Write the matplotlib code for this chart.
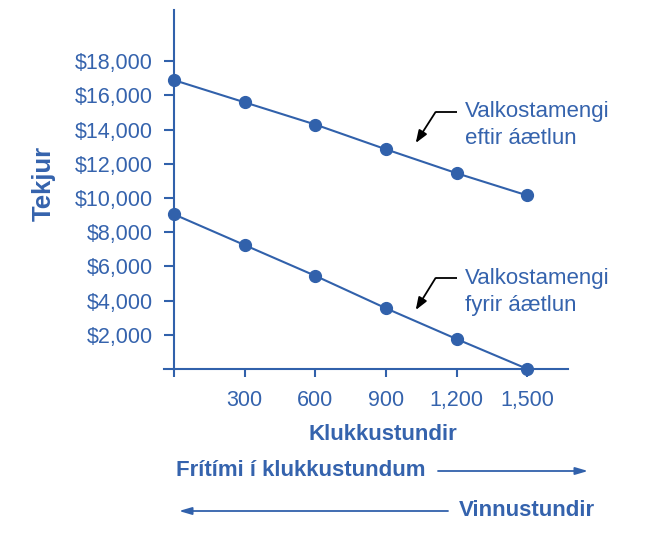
import matplotlib
matplotlib.use("Agg")
import matplotlib.pyplot as plt
from matplotlib.patches import FancyArrowPatch

plt.rcParams['font.family'] = ['Liberation Sans', 'DejaVu Sans']

hours = [0, 300, 600, 900, 1200, 1500]
after_program = [16900, 15600, 14300, 12850, 11450, 10150]
before_program = [9050, 7250, 5450, 3550, 1750, 0]
y_ticks = [2000, 4000, 6000, 8000, 10000, 12000, 14000, 16000, 18000]
y_tick_labels = ["$2,000", "$4,000", "$6,000", "$8,000", "$10,000",
                 "$12,000", "$14,000", "$16,000", "$18,000"]
x_ticks = [0, 300, 600, 900, 1200, 1500]
x_tick_labels = ["", "300", "600", "900", "1,200", "1,500"]

BLUE = "#3161ab"
TEXT = "#3563ad"

fig = plt.figure(figsize=(6.5, 5.36), dpi=100)
ax = fig.add_axes([164/650, (536-369)/536, 404/650, 359/536])
ax.set_xlim(-42, 1672)
ax.set_ylim(0, 21000)

ax.plot(hours, after_program, color=BLUE, lw=1.5, marker='o', ms=8.5, zorder=3, clip_on=False)
ax.plot(hours, before_program, color=BLUE, lw=1.5, marker='o', ms=8.5, zorder=3, clip_on=False)

for s in ['top', 'right']:
    ax.spines[s].set_visible(False)
ax.spines['left'].set_position(('data', 0))
ax.spines['left'].set_color(BLUE)
ax.spines['bottom'].set_color(BLUE)
ax.spines['left'].set_linewidth(1.5)
ax.spines['bottom'].set_linewidth(1.5)

ax.set_yticks(y_ticks)
ax.set_yticklabels(y_tick_labels)
ax.set_xticks(x_ticks)
ax.set_xticklabels(x_tick_labels)
ax.tick_params(axis='y', length=7.5, width=1.5, color=BLUE, labelcolor=TEXT, labelsize=15.5, pad=7.5)
ax.tick_params(axis='x', length=6, width=1.5, color=BLUE, labelcolor=TEXT, labelsize=15.5, pad=9)

# annotations
def label_arrow(text, text_xy, elbow_xy, tip_xy):
    ax.text(text_xy[0], text_xy[1], text, color=TEXT, fontsize=16, va='center', ha='left', linespacing=1.38)
    ax.plot([text_xy[0] - 32, elbow_xy[0]], [elbow_xy[1], elbow_xy[1]], color='black', lw=1.3,
            solid_capstyle='butt')
    ax.annotate('', xy=tip_xy, xytext=elbow_xy,
                arrowprops=dict(arrowstyle='-|>,head_length=0.75,head_width=0.28', color='black', lw=1.3,
                                shrinkA=0, shrinkB=0, mutation_scale=10))

label_arrow("Valkostamengi\neftir áætlun", (1235, 14250), (1110, 15030), (1026, 13220))
label_arrow("Valkostamengi\nfyrir áætlun", (1235, 4530), (1110, 5320), (1026, 3450))

# labels
fig.text(44/650, 1 - 183/536, "Tekjur", rotation=90, color=TEXT, fontsize=18.5, fontweight='bold',
         ha='center', va='center')
fig.text(383/650, 1 - 435/536, "Klukkustundir", color=TEXT, fontsize=16, fontweight='bold',
         ha='center', va='center')
fig.text(176/650, 1 - 470/536, "Frítími í klukkustundum", color=TEXT, fontsize=16, fontweight='bold',
         ha='left', va='center')
fig.text(595/650, 1 - 510/536, "Vinnustundir", color=TEXT, fontsize=16, fontweight='bold',
         ha='right', va='center')

fig.add_artist(FancyArrowPatch((438/650, 1 - 471/536), (588/650, 1 - 471/536),
                               transform=fig.transFigure, arrowstyle='-|>,head_length=0.75,head_width=0.22',
                               mutation_scale=10, color=BLUE, lw=1.3, shrinkA=0, shrinkB=0))
fig.add_artist(FancyArrowPatch((448/650, 1 - 511/536), (179/650, 1 - 511/536),
                               transform=fig.transFigure, arrowstyle='-|>,head_length=0.75,head_width=0.22',
                               mutation_scale=10, color=BLUE, lw=1.3, shrinkA=0, shrinkB=0))

fig.savefig("out.png", dpi=100)
